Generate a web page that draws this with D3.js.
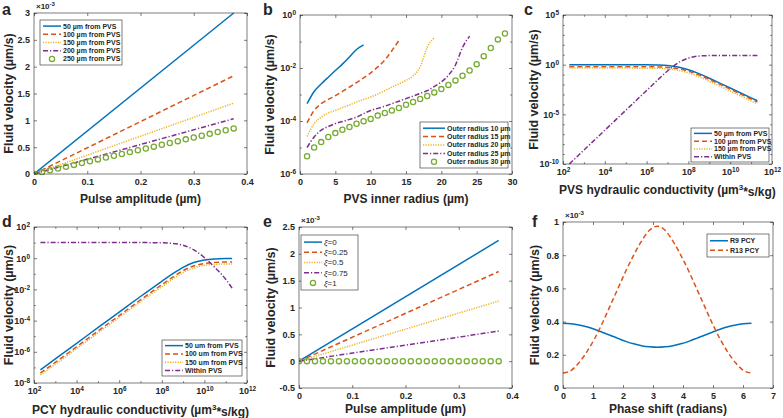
<!DOCTYPE html>
<html><head><meta charset="utf-8">
<script src="https://cdn.jsdelivr.net/npm/d3@7"></script>
<style>
body{margin:0;background:#fff}
svg text{font-family:"Liberation Sans",Arial,sans-serif;font-weight:bold;fill:#262626}
</style>
</head><body>
<svg id="chart" width="783" height="418"></svg>
<script>
const colors = ["#0072BD","#D95319","#EDB120","#7E2F8E","#77AC30"];

// ---------- panel a ----------
const aX = [0, 0.375];
const aLabels = ["50 µm from PVS","100 µm from PVS","150 µm from PVS","200 µm from PVS","250 µm from PVS"];
const a50 = [0, 3.0e-3];
const a100 = [0, 1.83e-3];
const a150 = [0, 1.32e-3];
const a200 = [0, 1.03e-3];
const aCircX = [0,0.015,0.03,0.045,0.06,0.075,0.09,0.105,0.12,0.135,0.15,0.165,0.18,0.195,0.21,0.225,0.24,0.255,0.27,0.285,0.3,0.315,0.33,0.345,0.36,0.375];
const a250 = [0,0.034e-3,0.068e-3,0.102e-3,0.136e-3,0.17e-3,0.204e-3,0.238e-3,0.272e-3,0.306e-3,0.34e-3,0.374e-3,0.408e-3,0.442e-3,0.476e-3,0.51e-3,0.544e-3,0.578e-3,0.612e-3,0.646e-3,0.68e-3,0.714e-3,0.748e-3,0.782e-3,0.816e-3,0.85e-3];
const aXTicks = [0,0.1,0.2,0.3,0.4];
const aYTicks = [0,0.5e-3,1e-3,1.5e-3,2e-3,2.5e-3,3e-3];

// ---------- panel b ----------
const bLabels = ["Outer radius 10 µm","Outer radius 15 µm","Outer radius 20 µm","Outer radius 25 µm","Outer radius 30 µm"];
const b10X = [1,2,3,4,5,6,7,8,9];
const b10 = [4.5e-4,1.3e-3,2.5e-3,4.5e-3,8e-3,1.4e-2,2.6e-2,5e-2,7.5e-2];
const b15X = [1,2,3,4,5,6,7,8,9,10,11,12,13,14];
const b15 = [8.5e-5,2.5e-4,4.5e-4,6.5e-4,9e-4,1.3e-3,1.9e-3,2.8e-3,4.2e-3,6.5e-3,1.1e-2,2e-2,4.5e-2,1.1e-1];
const b20X = [1,2,3,4,5,6,7,8,9,10,11,12,13,14,15,16,17,18,19];
const b20 = [2.6e-5,8e-5,1.4e-4,2e-4,2.5e-4,3.2e-4,4e-4,5.2e-4,6.5e-4,8e-4,1.05e-3,1.4e-3,1.9e-3,2.5e-3,3.4e-3,5e-3,1.1e-2,6e-2,1.4e-1];
const b25X = [1,2,3,4,5,6,7,8,9,10,11,12,13,14,15,16,17,18,19,20,21,22,23,24];
const b25 = [1e-5,2.5e-5,4.5e-5,6.2e-5,8e-5,9.5e-5,1.15e-4,1.4e-4,1.9e-4,2.5e-4,3e-4,3.6e-4,4.5e-4,5.6e-4,7e-4,8.7e-4,1.1e-3,1.4e-3,2e-3,3e-3,5.3e-3,1.3e-2,6e-2,1.6e-1];
const b30X = [1,2,3,4,5,6,7,8,9,10,11,12,13,14,15,16,17,18,19,20,21,22,23,24,25,26,27,28,29];
const b30 = [4.7e-6,1e-5,1.6e-5,2.5e-5,3.5e-5,4.7e-5,5.9e-5,7.9e-5,9.8e-5,1.2e-4,1.6e-4,2e-4,2.5e-4,3.1e-4,4.1e-4,5.2e-4,6.8e-4,8.8e-4,1.2e-3,1.6e-3,2.3e-3,3.4e-3,5.1e-3,8.1e-3,1.4e-2,2.8e-2,5.7e-2,1.2e-1,2e-1];
const bXTicks = [0,5,10,15,20,25,30];
const bYTicks = [1e-6,1e-4,1e-2,1e0];
const bYMinor = [1e-5,1e-3,1e-1];

// ---------- panel c ----------
const cLabels = ["50 µm from PVS","100 µm from PVS","150 µm from PVS","Within PVS"];
const cX = [2e2,1e3,1e4,1e5,1e6,3.16e6,1e7,3.16e7,1e8,3.16e8,1e9,3.16e9,1e10,3.16e10,1e11,2e11];
const c50 = [1,1,1,1,0.98,0.93,0.82,0.59,0.31,0.125,0.043,0.014,0.0045,0.0014,0.00045,0.00023];
const c100 = [0.63,0.63,0.63,0.63,0.62,0.6,0.53,0.4,0.22,0.094,0.033,0.011,0.0035,0.0011,0.00035,0.00017];
const c150 = [0.45,0.45,0.45,0.45,0.44,0.43,0.375,0.276,0.15,0.061,0.021,0.007,0.0022,0.0007,0.00022,0.00011];
const cPVS = [1e-10,2.5e-9,2.5e-7,2.5e-5,2.5e-3,0.025,0.23,1.5,4.6,7.3,8.2,8.4,8.5,8.5,8.5,8.5];
const cXTicks = [1e2,1e4,1e6,1e8,1e10,1e12];
const cXMinor = [1e3,1e5,1e7,1e9,1e11];
const cYTicks = [1e-10,1e-5,1e0,1e5];
const cYMinor = [1e-9,1e-8,1e-7,1e-6,1e-4,1e-3,1e-2,1e-1,1e1,1e2,1e3,1e4];

// ---------- panel d ----------
const dLabels = ["50 um from PVS","100 um from PVS","150 um from PVS","Within PVS"];
const dX = [2e2,1e3,1e4,1e5,1e6,1e7,1e8,3.16e8,1e9,3.16e9,1e10,3.16e10,1e11,2e11];
const d50 = [7e-8,3.5e-7,3.5e-6,3.5e-5,3.5e-4,3.5e-3,0.033,0.098,0.26,0.53,0.77,0.9,0.95,0.96];
const d100 = [4.3e-8,2.1e-7,2.1e-6,2.1e-5,2.1e-4,2.1e-3,0.02,0.059,0.16,0.32,0.46,0.54,0.57,0.58];
const d150 = [3.3e-8,1.6e-7,1.6e-6,1.6e-5,1.6e-4,1.6e-3,0.015,0.044,0.12,0.24,0.35,0.4,0.43,0.43];
const dPVS = [10,10,10,10,10,10,9.7,8.9,6.8,3.4,1.1,0.25,0.045,0.012];
const dXTicks = [1e2,1e4,1e6,1e8,1e10,1e12];
const dXMinor = [1e3,1e5,1e7,1e9,1e11];
const dYTicks = [1e-8,1e-6,1e-4,1e-2,1e0,1e2];
const dYMinor = [1e-7,1e-5,1e-3,1e-1,1e1];

// ---------- panel e ----------
const eLabels = ["ξ=0","ξ=0.25","ξ=0.5","ξ=0.75","ξ=1"];
const eX = [0, 0.375];
const e0 = [0, 2.25e-3];
const e25 = [0, 1.67e-3];
const e50 = [0, 1.12e-3];
const e75 = [0, 0.56e-3];
const eCircX = [0,0.015,0.03,0.045,0.06,0.075,0.09,0.105,0.12,0.135,0.15,0.165,0.18,0.195,0.21,0.225,0.24,0.255,0.27,0.285,0.3,0.315,0.33,0.345,0.36,0.375];
const e100 = [0,0,0,0,0,0,0,0,0,0,0,0,0,0,0,0,0,0,0,0,0,0,0,0,0,0];
const eXTicks = [0,0.1,0.2,0.3,0.4];
const eYTicks = [-0.5e-3,0,0.5e-3,1e-3,1.5e-3,2e-3,2.5e-3];

// ---------- panel f ----------
const fLabels = ["R9 PCY","R13 PCY"];
const fX = [0,0.262,0.524,0.785,1.047,1.309,1.571,1.833,2.094,2.356,2.618,2.88,3.142,3.403,3.665,3.927,4.189,4.451,4.712,4.974,5.236,5.498,5.76,6.021,6.283];
const fR9 = [0.39e-3,0.387e-3,0.38e-3,0.369e-3,0.354e-3,0.336e-3,0.318e-3,0.299e-3,0.281e-3,0.266e-3,0.255e-3,0.248e-3,0.245e-3,0.248e-3,0.255e-3,0.266e-3,0.281e-3,0.299e-3,0.318e-3,0.336e-3,0.354e-3,0.369e-3,0.38e-3,0.387e-3,0.39e-3];
const fR13 = [0.09e-3,0.105e-3,0.15e-3,0.215e-3,0.295e-3,0.39e-3,0.495e-3,0.6e-3,0.705e-3,0.8e-3,0.885e-3,0.95e-3,0.975e-3,0.95e-3,0.885e-3,0.8e-3,0.705e-3,0.6e-3,0.495e-3,0.39e-3,0.295e-3,0.215e-3,0.15e-3,0.105e-3,0.09e-3];
const fXTicks = [0,1,2,3,4,5,6,7];
const fYTicks = [0,0.2e-3,0.4e-3,0.6e-3,0.8e-3,1e-3];

// ---------- drawing ----------
const svg = d3.select("#chart");
const styles = {
  solid: null,
  dash: "5,3",
  dot: "1.2,1.3",
  dashdot: "5,2,1.2,2"
};
const AX = "#262626";
const fmtE3 = d => String(+(d*1000).toFixed(3));
const fmtLin = d => String(d);

function logLabel(sel) {
  sel.each(function(d){
    const t = d3.select(this);
    const e = Math.round(Math.log10(d));
    t.text(null);
    t.append("tspan").text("10");
    t.append("tspan").attr("dy", "-0.45em").attr("font-size", "6.5px").text(e);
  });
}

let clipId = 0;
function panel(p) {
  const g = svg.append("g");
  const x = (p.xlog ? d3.scaleLog() : d3.scaleLinear()).domain(p.xd).range([p.l, p.r]);
  const y = (p.ylog ? d3.scaleLog() : d3.scaleLinear()).domain(p.yd).range([p.b, p.t]);
  const w = p.r - p.l, h = p.b - p.t;
  g.append("rect").attr("x", p.l).attr("y", p.t).attr("width", w).attr("height", h)
    .attr("fill", "#fff");

  const tk = 3;
  const bottom = g.append("g").attr("transform", `translate(0,${p.b})`)
    .call(d3.axisBottom(x).tickValues(p.xt).tickSizeInner(-tk).tickSizeOuter(0).tickPadding(p.xpad || 5)
      .tickFormat(p.xlog ? d => d : (p.xfmt || fmtLin)));
  const left = g.append("g").attr("transform", `translate(${p.l},0)`)
    .call(d3.axisLeft(y).tickValues(p.yt).tickSizeInner(-tk).tickSizeOuter(0).tickPadding(p.ypad || 4)
      .tickFormat(p.ylog ? d => d : (p.yfmt || fmtLin)));
  g.append("g").attr("transform", `translate(0,${p.t})`)
    .call(d3.axisTop(x).tickValues(p.xt).tickSizeInner(-tk).tickSizeOuter(0).tickFormat(""));
  g.append("g").attr("transform", `translate(${p.r},0)`)
    .call(d3.axisRight(y).tickValues(p.yt).tickSizeInner(-tk).tickSizeOuter(0).tickFormat(""));
  if (p.xminor) {
    g.append("g").attr("transform", `translate(0,${p.b})`)
      .call(d3.axisBottom(x).tickValues(p.xminor).tickSizeInner(-1.8).tickSizeOuter(0).tickFormat(""));
    g.append("g").attr("transform", `translate(0,${p.t})`)
      .call(d3.axisTop(x).tickValues(p.xminor).tickSizeInner(-1.8).tickSizeOuter(0).tickFormat(""));
  }
  if (p.yminor) {
    g.append("g").attr("transform", `translate(${p.l},0)`)
      .call(d3.axisLeft(y).tickValues(p.yminor).tickSizeInner(-1.8).tickSizeOuter(0).tickFormat(""));
    g.append("g").attr("transform", `translate(${p.r},0)`)
      .call(d3.axisRight(y).tickValues(p.yminor).tickSizeInner(-1.8).tickSizeOuter(0).tickFormat(""));
  }
  g.selectAll(".domain").remove();
  g.selectAll(".tick line").attr("stroke", AX).attr("stroke-width", 0.6);
  g.selectAll(".tick text").attr("font-size", "9px").attr("font-family", null).attr("fill", AX);
  if (p.xlog) logLabel(bottom.selectAll(".tick text"));
  if (p.ylog) logLabel(left.selectAll(".tick text"));

  // clip
  const id = "clip" + (clipId++);
  svg.append("clipPath").attr("id", id).append("rect")
    .attr("x", p.l).attr("y", p.t - 1).attr("width", w).attr("height", h + 2);
  const plot = g.append("g").attr("clip-path", `url(#${id})`);

  p.series.forEach(s => {
    const pts = s.xs.map((xv, i) => [xv, s.ys[i]]);
    if (s.marker) {
      plot.selectAll(null).data(pts).enter().append("circle")
        .attr("cx", d => x(d[0])).attr("cy", d => y(d[1])).attr("r", 2.6)
        .attr("fill", "none").attr("stroke", s.color).attr("stroke-width", 1.3);
    } else {
      const line = d3.line().x(d => x(d[0])).y(d => y(d[1])).curve(p.curve || d3.curveLinear);
      plot.append("path").attr("d", line(pts)).attr("fill", "none")
        .attr("stroke", s.color).attr("stroke-width", 1.5)
        .attr("stroke-dasharray", styles[s.style]);
    }
  });

  // box border
  g.append("rect").attr("x", p.l).attr("y", p.t).attr("width", w).attr("height", h)
    .attr("fill", "none").attr("stroke", AX).attr("stroke-width", 0.6);

  // legend
  const L = p.legend;
  g.append("rect").attr("x", L.x).attr("y", L.y).attr("width", L.w).attr("height", L.h)
    .attr("fill", "#fff").attr("stroke", AX).attr("stroke-width", 0.6);
  const rowH = (L.h - 2 * L.pad) / p.series.length;
  p.series.forEach((s, i) => {
    const cy = L.y + L.pad + rowH * (i + 0.5);
    const sx0 = L.x + 3, sx1 = L.x + 3 + L.sl;
    if (s.marker) {
      g.append("circle").attr("cx", (sx0 + sx1) / 2).attr("cy", cy).attr("r", 2.6)
        .attr("fill", "none").attr("stroke", s.color).attr("stroke-width", 1.3);
    } else {
      g.append("line").attr("x1", sx0).attr("x2", sx1).attr("y1", cy).attr("y2", cy)
        .attr("stroke", s.color).attr("stroke-width", 1.5).attr("stroke-dasharray", styles[s.style]);
    }
    const t = g.append("text").attr("x", sx1 + 2).attr("y", cy + L.fs * 0.35)
      .attr("font-size", L.fs + "px");
    if (L.greek) {
      const parts = p.labels[i].split("=");
      t.append("tspan").attr("font-style", "italic").attr("font-weight", "normal").text(parts[0]);
      t.append("tspan").attr("font-weight", "normal").text("=" + parts[1]);
    } else {
      t.text(p.labels[i]);
    }
  });

  // axis labels
  g.append("text").attr("x", (p.l + p.r) / 2).attr("y", p.xly).attr("text-anchor", "middle")
    .attr("font-size", "12px").text(p.xlabel);
  g.append("text").attr("transform", `translate(${p.ylx},${(p.t + p.b) / 2}) rotate(-90)`)
    .attr("text-anchor", "middle").attr("font-size", "12.5px").text("Fluid velocity (µm/s)");
  g.append("text").attr("x", p.letter[1]).attr("y", p.letter[2]).attr("font-size", "16px").text(p.letter[0]);
  if (p.exp) {
    const t = g.append("text").attr("x", p.l + 2).attr("y", p.t - 4).attr("font-size", "8px").attr("font-weight", "normal");
    t.append("tspan").text("×10");
    t.append("tspan").attr("dy", "-0.45em").attr("font-size", "6px").text("-3");
  }
  return g;
}

const C = colors;
panel({
  l: 34, r: 247, t: 13, b: 174, xd: [0, 0.4], yd: [0, 3e-3], xt: aXTicks, yt: aYTicks, yfmt: fmtE3,
  labels: aLabels, exp: true, letter: ["a", 2, 15],
  series: [
    {xs: aX, ys: a50, color: C[0], style: "solid"},
    {xs: aX, ys: a100, color: C[1], style: "dash"},
    {xs: aX, ys: a150, color: C[2], style: "dot"},
    {xs: aX, ys: a200, color: C[3], style: "dashdot"},
    {xs: aCircX, ys: a250, color: C[4], marker: true}
  ],
  legend: {x: 40, y: 20, w: 82, h: 45, pad: 2, sl: 18, fs: 7},
  xlabel: "Pulse amplitude (µm)", xly: 203, ylx: 13
});
panel({
  l: 300, r: 512, t: 15, b: 174, xd: [0, 30], yd: [1e-6, 1], ylog: true, xt: bXTicks, yt: bYTicks, yminor: bYMinor,
  labels: bLabels, letter: ["b", 263, 15],
  series: [
    {xs: b10X, ys: b10, color: C[0], style: "solid"},
    {xs: b15X, ys: b15, color: C[1], style: "dash"},
    {xs: b20X, ys: b20, color: C[2], style: "dot"},
    {xs: b25X, ys: b25, color: C[3], style: "dashdot"},
    {xs: b30X, ys: b30, color: C[4], marker: true}
  ],
  curve: d3.curveMonotoneX,
  legend: {x: 420, y: 122, w: 88, h: 46, pad: 2, sl: 22, fs: 7},
  xlabel: "PVS inner radius (µm)", xly: 203, ylx: 274
});
panel({
  l: 563, r: 772, t: 15, b: 164, xd: [1e2, 1e12], yd: [1e-10, 1e5], xlog: true, ylog: true,
  xt: cXTicks, yt: cYTicks, xminor: cXMinor, yminor: cYMinor,
  labels: cLabels, letter: ["c", 524, 15],
  series: [
    {xs: cX, ys: c50, color: C[0], style: "solid"},
    {xs: cX, ys: c100, color: C[1], style: "dash"},
    {xs: cX, ys: c150, color: C[2], style: "dot"},
    {xs: cX, ys: cPVS, color: C[3], style: "dashdot"}
  ],
  curve: d3.curveMonotoneX,
  legend: {x: 691, y: 128, w: 78, h: 34, pad: 1.5, sl: 18, fs: 7},
  xlabel: "", xly: 194, ylx: 538
});
panel({
  l: 34, r: 247, t: 227, b: 383, xd: [1e2, 1e12], yd: [1e-8, 1e2], xlog: true, ylog: true,
  xt: dXTicks, yt: dYTicks, xminor: dXMinor, yminor: dYMinor,
  labels: dLabels, letter: ["d", 2, 227],
  series: [
    {xs: dX, ys: d50, color: C[0], style: "solid"},
    {xs: dX, ys: d100, color: C[1], style: "dash"},
    {xs: dX, ys: d150, color: C[2], style: "dot"},
    {xs: dX, ys: dPVS, color: C[3], style: "dashdot"}
  ],
  curve: d3.curveMonotoneX,
  legend: {x: 162, y: 340, w: 80, h: 36, pad: 1.5, sl: 18, fs: 7},
  xlabel: "", xly: 414, ylx: 13
});
panel({
  l: 299, r: 512, t: 227, b: 388, xd: [0, 0.4], yd: [-0.5e-3, 2.5e-3], xt: eXTicks, yt: eYTicks, yfmt: fmtE3,
  labels: eLabels, exp: true, letter: ["e", 263, 227],
  series: [
    {xs: eX, ys: e0, color: C[0], style: "solid"},
    {xs: eX, ys: e25, color: C[1], style: "dash"},
    {xs: eX, ys: e50, color: C[2], style: "dot"},
    {xs: eX, ys: e75, color: C[3], style: "dashdot"},
    {xs: eCircX, ys: e100, color: C[4], marker: true}
  ],
  legend: {x: 301, y: 235, w: 57, h: 55, pad: 2, sl: 18, fs: 8, greek: true},
  xlabel: "Pulse amplitude (µm)", xly: 413, ylx: 275
});
panel({
  l: 563, r: 773, t: 222, b: 388, xd: [0, 7], yd: [0, 1e-3], xt: fXTicks, yt: fYTicks, yfmt: fmtE3,
  labels: fLabels, exp: true, letter: ["f", 532, 227],
  series: [
    {xs: fX, ys: fR9, color: C[0], style: "solid"},
    {xs: fX, ys: fR13, color: C[1], style: "dash"}
  ],
  curve: d3.curveMonotoneX,
  legend: {x: 707, y: 234, w: 62, h: 23, pad: 2, sl: 18, fs: 7},
  xlabel: "Phase shift (radians)", xly: 413, ylx: 539
});

// x labels with superscript (panels c, d)
function supLabel(cx, cy, prefix) {
  const t = svg.append("text").attr("x", cx).attr("y", cy).attr("text-anchor", "middle").attr("font-size", "12px");
  t.append("tspan").text(prefix + " hydraulic conductivity (µm");
  t.append("tspan").attr("dy", "-0.45em").attr("font-size", "8px").text("3");
  t.append("tspan").attr("dy", "0.45em").text("*s/kg)");
}
supLabel((563 + 772) / 2, 194, "PVS");
supLabel((34 + 247) / 2, 414, "PCY");
</script>
</body></html>
